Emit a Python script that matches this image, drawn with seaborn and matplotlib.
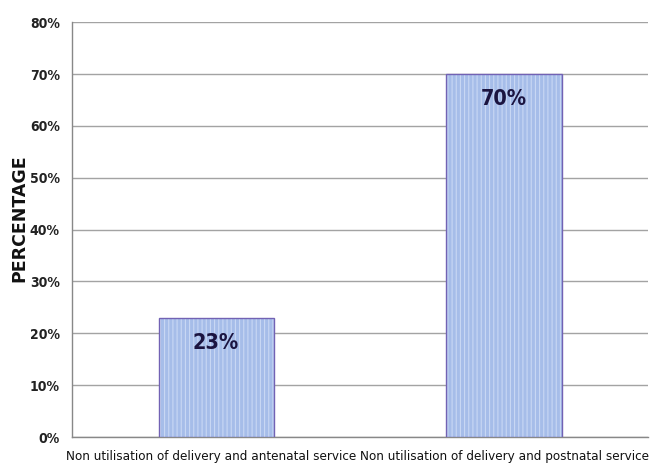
import matplotlib
matplotlib.use("Agg")
import matplotlib.pyplot as plt
import matplotlib.colors as mcolors
import matplotlib.transforms as mtransforms
import seaborn as sns
import pandas as pd

categories = ["Non utilisation of delivery and antenatal service",
              "Non utilisation of delivery and postnatal service"]
values = [23, 70]
value_labels = ["23%", "70%"]
yticks = [0, 10, 20, 30, 40, 50, 60, 70, 80]

sns.set_style("white")
plt.rcParams["font.family"] = ["DejaVu Sans"]
plt.rcParams["font.stretch"] = "condensed"
plt.rcParams["hatch.linewidth"] = 0.8

df = pd.DataFrame({"category": categories, "value": values})

fig = plt.figure(figsize=(6.5, 4.72), dpi=100)
ax = fig.add_axes([0.111, 0.074, 0.886, 0.879])

sns.barplot(data=df, x="category", y="value", ax=ax, width=0.4,
            color="#a6bde9", saturation=1, edgecolor="#7262b4",
            linewidth=1.0, hatch="||||", zorder=3)
for p in ax.patches:
    if hasattr(p, "set_hatchcolor"):
        p.set_hatchcolor("#c9d8f4")
    else:
        p._hatch_color = mcolors.to_rgba("#c9d8f4")

ax.set_ylim(0, 80)
ax.set_xlim(-0.5, 1.5)
ax.set_yticks(yticks)
ax.set_yticklabels([f"{t}%" for t in yticks], fontsize=10, fontweight="bold",
                   color="#222222", fontstretch="condensed")
ax.yaxis.grid(True, color="#a3a3a3", linewidth=1.0, zorder=0)
ax.set_axisbelow(True)

# x ticks sit on the category boundaries, labels centred under the bars
ax.set_xticks([-0.5, 0.5, 1.5], minor=False)
ax.set_xticklabels([])
ax.set_xticks([0, 1], minor=True)
ax.set_xticklabels(categories, minor=True, fontsize=9.6, color="#111111",
                   fontstretch="condensed")
ax.tick_params(axis="x", which="major", length=5, color="#888888", width=1)
ax.tick_params(axis="x", which="minor", length=0, pad=9)
ax.tick_params(axis="y", length=5, color="#888888", width=1, pad=4)

# nudge the two long category labels apart so they do not touch
shifts = [-5, 0]
for lab, dx in zip(ax.get_xticklabels(minor=True), shifts):
    lab.set_transform(lab.get_transform() +
                      mtransforms.ScaledTranslation(dx / 100, 0,
                                                    fig.dpi_scale_trans))

for side in ["top", "right"]:
    ax.spines[side].set_visible(False)
for side in ["left", "bottom"]:
    ax.spines[side].set_color("#888888")
    ax.spines[side].set_linewidth(1)

ax.set_xlabel("")
ax.set_ylabel("PERCENTAGE", fontsize=12.5, fontweight="bold", color="#111111",
              fontstretch="normal")
ax.yaxis.set_label_coords(-0.076, 0.528)

for i, (v, lab) in enumerate(zip(values, value_labels)):
    ax.text(i, v - 4.8, lab, ha="center", va="center", fontsize=15.5,
            fontweight="bold", color="#1b1440", zorder=5,
            fontstretch="condensed")

fig.savefig("out.png", dpi=100)
